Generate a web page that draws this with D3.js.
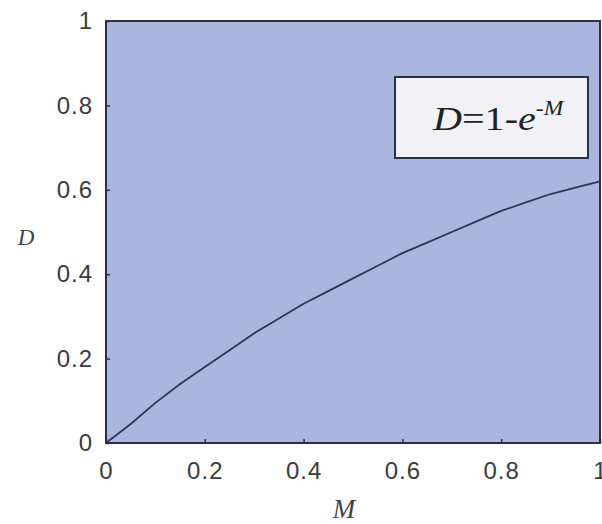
<!DOCTYPE html>
<html>
<head>
<meta charset="utf-8">
<script src="https://cdn.jsdelivr.net/npm/d3@7/dist/d3.min.js"></script>
<style>
  html, body { margin: 0; padding: 0; background: #fff; }
  svg { display: block; }
</style>
</head>
<body>
<svg id="chart" width="602" height="524"></svg>
<script>
// Damage fraction D versus M, with the formula D = 1 - e^-M
const mValues = [0, 0.05, 0.1, 0.15, 0.2, 0.25, 0.3, 0.35, 0.4, 0.45, 0.5,
                 0.55, 0.6, 0.65, 0.7, 0.75, 0.8, 0.85, 0.9, 0.95, 1.0];
const dValues = [0, 0.045, 0.095, 0.14, 0.18, 0.22, 0.26, 0.295, 0.33, 0.36, 0.39,
                 0.42, 0.45, 0.475, 0.50, 0.525, 0.55, 0.57, 0.59, 0.605, 0.62];
const xTicks = [0, 0.2, 0.4, 0.6, 0.8, 1];
const yTicks = [0, 0.2, 0.4, 0.6, 0.8, 1];
const xTickLabels = ["0", "0.2", "0.4", "0.6", "0.8", "1"];
const yTickLabels = ["0", "0.2", "0.4", "0.6", "0.8", "1"];

const svg = d3.select("#chart");
const plotLeft = 106, plotRight = 600, plotTop = 21, plotBottom = 443;

const x = d3.scaleLinear().domain([0, 1]).range([plotLeft, plotRight]);
const y = d3.scaleLinear().domain([0, 1]).range([plotBottom, plotTop]);

// plot background
svg.append("rect")
  .attr("x", plotLeft).attr("y", plotTop)
  .attr("width", plotRight - plotLeft).attr("height", plotBottom - plotTop)
  .attr("fill", "#aab6dd");

// curve
const line = d3.line().x((d, i) => x(mValues[i])).y(d => y(d));
svg.append("path")
  .datum(dValues)
  .attr("d", line)
  .attr("fill", "none")
  .attr("stroke", "#2c3658")
  .attr("stroke-width", 1.8)
  .attr("stroke-linejoin", "round");

// frame
svg.append("rect")
  .attr("x", plotLeft).attr("y", plotTop)
  .attr("width", plotRight - plotLeft).attr("height", plotBottom - plotTop)
  .attr("fill", "none")
  .attr("stroke", "#2a3146")
  .attr("stroke-width", 2);

const tickFont = "Liberation Sans, Arial, sans-serif";

// x axis
const xAxis = d3.axisBottom(x).tickValues(xTicks)
  .tickFormat((d, i) => xTickLabels[i]).tickSizeInner(-4).tickSizeOuter(0).tickPadding(19);
const gx = svg.append("g").attr("transform", `translate(0,${plotBottom})`).call(xAxis);
gx.select(".domain").remove();
gx.selectAll(".tick line").attr("stroke", "#2a3146").attr("stroke-width", 1.5);
gx.selectAll(".tick text")
  .attr("font-family", tickFont).attr("font-size", 24)
  .attr("letter-spacing", 1).attr("fill", "#3c3c3c");

// y axis
const yAxis = d3.axisLeft(y).tickValues(yTicks)
  .tickFormat((d, i) => yTickLabels[i]).tickSizeInner(-4).tickSizeOuter(0).tickPadding(13);
const gy = svg.append("g").attr("transform", `translate(${plotLeft},0)`).call(yAxis);
gy.select(".domain").remove();
gy.selectAll(".tick line").attr("stroke", "#2a3146").attr("stroke-width", 1.5);
gy.selectAll(".tick text")
  .attr("font-family", tickFont).attr("font-size", 24)
  .attr("letter-spacing", 1).attr("fill", "#3c3c3c");

// axis titles
const serif = "Liberation Serif, Times New Roman, serif";
svg.append("text")
  .attr("x", 344).attr("y", 518)
  .attr("text-anchor", "middle")
  .attr("font-family", serif).attr("font-style", "italic")
  .attr("font-size", 27).attr("fill", "#444")
  .text("M");
svg.append("text")
  .attr("x", 26).attr("y", 245)
  .attr("text-anchor", "middle")
  .attr("font-family", serif).attr("font-style", "italic")
  .attr("font-size", 23).attr("fill", "#444")
  .text("D");

// formula box
svg.append("rect")
  .attr("x", 395).attr("y", 77)
  .attr("width", 193).attr("height", 81)
  .attr("fill", "#f2f2f6")
  .attr("stroke", "#2a3146")
  .attr("stroke-width", 2);

// formula text, set in a slightly wide serif
const formula = svg.append("text")
  .attr("transform", "translate(433,130) scale(1.18,1)")
  .attr("font-family", serif).attr("font-size", 34).attr("fill", "#222");
formula.append("tspan").attr("font-style", "italic").text("D");
formula.append("tspan").text("=1-");
formula.append("tspan").attr("font-style", "italic").text("e");
formula.append("tspan").attr("font-style", "italic").attr("font-size", 20)
  .attr("dy", -15).text("-M");
</script>
</body>
</html>
